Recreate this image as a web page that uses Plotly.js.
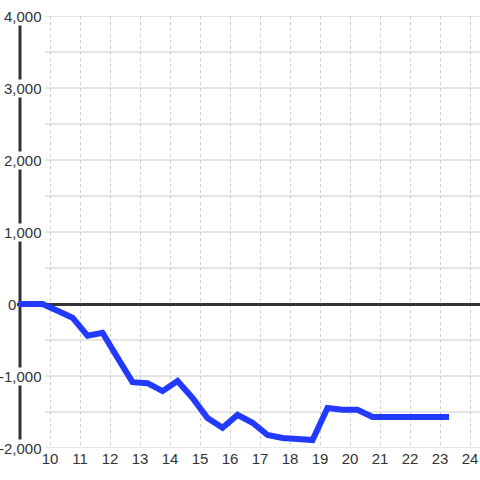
<!DOCTYPE html>
<html>
<head>
<meta charset="utf-8">
<script src="https://cdn.plot.ly/plotly-3.0.1.min.js"></script>
<style>html,body{margin:0;padding:0;background:#fff;}#chart{width:480px;height:480px;}</style>
</head>
<body>
<div id="chart"></div>
<script>
// Data
var xValues = [8.95, 9.75, 10.25, 10.75, 11.25, 11.75, 12.25, 12.75, 13.25, 13.75, 14.25, 14.75, 15.25, 15.75, 16.25, 16.75, 17.25, 17.75, 18.25, 18.75, 19.25, 19.75, 20.25, 20.75, 21.25, 21.75, 22.25, 22.75, 23.3];
var yValues = [0, 0, -95, -190, -440, -400, -745, -1085, -1100, -1210, -1070, -1305, -1585, -1720, -1540, -1650, -1820, -1860, -1875, -1890, -1445, -1470, -1470, -1570, -1570, -1570, -1570, -1570, -1570];
var xTickVals = [10, 11, 12, 13, 14, 15, 16, 17, 18, 19, 20, 21, 22, 23, 24];
var yTickVals = [-2000, -1000, 0, 1000, 2000, 3000, 4000];
var yTickLabels = ['-2,000', '-1,000', '0', '1,000', '2,000', '3,000', '4,000'];
var yGridVals = [-2000, -1500, -1000, -500, 500, 1000, 1500, 2000, 2500, 3000, 3500, 4000];

var xRange = [8.9, 24.333];
var yRange = [-2000, 4000];
var axisX = 9;
var gridStartX = 9.833;

var font = {family: 'Liberation Sans, Arial, sans-serif', size: 15, color: '#333'};

var shapes = [];
yGridVals.forEach(function (v) {
  shapes.push({type: 'line', layer: 'below', xref: 'x', yref: 'y', x0: gridStartX, x1: xRange[1], y0: v, y1: v,
    line: {color: '#cccccc', width: 1}});
});
shapes.push({type: 'line', layer: 'below', xref: 'x', yref: 'y', x0: axisX, x1: axisX, y0: yRange[0], y1: yRange[1],
  line: {color: '#333333', width: 3}});

var annotations = yTickVals.map(function (v, i) {
  return {xref: 'paper', yref: 'y', x: v === 0 ? 0 : 0.0562, y: v, text: yTickLabels[i], showarrow: false,
    xanchor: 'right', yanchor: 'middle', bgcolor: '#ffffff', borderpad: 0, font: font};
});

var trace = {x: xValues, y: yValues, type: 'scatter', mode: 'lines',
  line: {color: '#2239ff', width: 6}, hoverinfo: 'none'};

var layout = {
  width: 480, height: 480,
  margin: {l: 17, r: 0, t: 16, b: 32, pad: 0},
  paper_bgcolor: '#ffffff', plot_bgcolor: '#ffffff',
  showlegend: false,
  font: font,
  xaxis: {range: xRange, tickvals: xTickVals, ticktext: xTickVals.map(String), showgrid: true,
    gridcolor: '#cccccc', griddash: '3px,3px', gridwidth: 1, zeroline: false, showline: false, ticks: '',
    tickfont: font, fixedrange: true},
  yaxis: {range: yRange, showgrid: false, showticklabels: false, zeroline: true, zerolinecolor: '#333333',
    zerolinewidth: 3, showline: false, ticks: '', fixedrange: true},
  shapes: shapes,
  annotations: annotations
};

Plotly.newPlot('chart', [trace], layout, {displayModeBar: false, staticPlot: true});
</script>
</body>
</html>
